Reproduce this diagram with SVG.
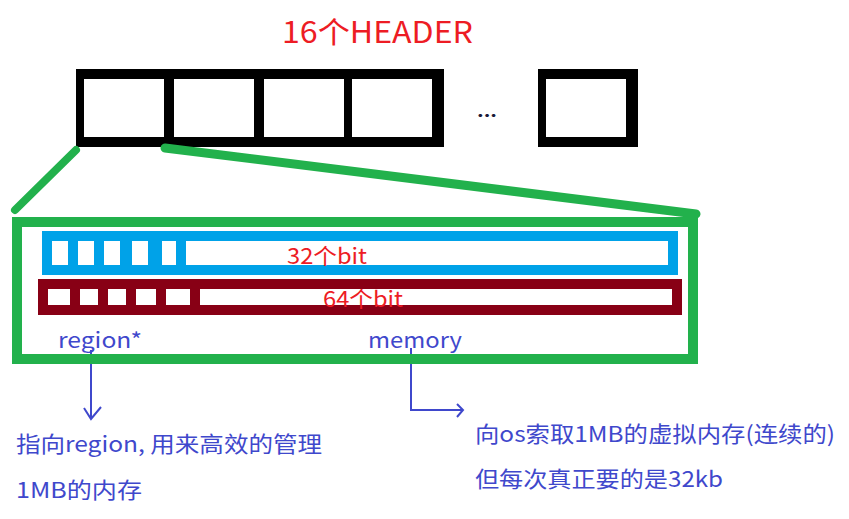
<svg xmlns="http://www.w3.org/2000/svg" width="849" height="519" viewBox="0 0 849 519">
<style>
.t{font-family:"Noto Sans CJK SC","Noto Sans",sans-serif;}
.red{fill:#ED1C24;}
.ind{fill:#3F48CC;}
.wh{fill:#fff;}
.ln{stroke:#3F48CC;stroke-width:2;fill:none;}
</style>
<rect width="849" height="519" fill="#fff"/>
<g id="title">
<text class="t red" x="282" y="43" font-size="30" textLength="191" lengthAdjust="spacingAndGlyphs">16个HEADER</text>
</g>
<g id="headers">
<rect x="76" y="69" width="368" height="78" fill="#000"/>
<rect class="wh" x="84" y="79" width="80" height="58"/>
<rect class="wh" x="174" y="79" width="80" height="58"/>
<rect class="wh" x="264" y="79" width="80" height="58"/>
<rect class="wh" x="352" y="79" width="80" height="58"/>
<text class="t" x="477" y="117" font-size="16" font-weight="bold" fill="#1a1a3a" textLength="20" lengthAdjust="spacingAndGlyphs">...</text>
<rect x="538" y="69" width="100" height="78" fill="#000"/>
<rect class="wh" x="546" y="79" width="80" height="58"/>
</g>
<g id="connectors">
<line x1="15" y1="210" x2="76" y2="150" stroke="#22B14C" stroke-width="8" stroke-linecap="round"/>
<line x1="165" y1="148" x2="696" y2="214" stroke="#22B14C" stroke-width="9" stroke-linecap="round"/>
<rect x="688" y="211" width="10" height="20" fill="#22B14C"/>
<polyline class="ln" points="91,350 91,419"/>
<polyline class="ln" points="84,408 91,419 101,407"/>
<polyline class="ln" points="411,348 411,410 463,410"/>
<polyline class="ln" points="457,404 463,410 457,417"/>
</g>
<g id="region">
<rect x="17" y="222" width="676" height="137" fill="none" stroke="#22B14C" stroke-width="10"/>
</g>
<g id="bits32">
<rect x="42" y="231" width="636" height="44" fill="#00A2E8"/>
<rect class="wh" x="52" y="241" width="16" height="24"/>
<rect class="wh" x="78" y="241" width="16" height="24"/>
<rect class="wh" x="104" y="241" width="16" height="24"/>
<rect class="wh" x="132" y="241" width="16" height="24"/>
<rect class="wh" x="162" y="241" width="14" height="24"/>
<rect class="wh" x="186" y="241" width="482" height="24"/>
<text class="t red" x="287" y="264" font-size="22" textLength="80" lengthAdjust="spacingAndGlyphs">32个bit</text>
</g>
<g id="bits64">
<rect x="38" y="279" width="644" height="36" fill="#880015"/>
<rect class="wh" x="48" y="289" width="22" height="16"/>
<rect class="wh" x="80" y="289" width="18" height="16"/>
<rect class="wh" x="108" y="289" width="18" height="16"/>
<rect class="wh" x="136" y="289" width="20" height="16"/>
<rect class="wh" x="166" y="289" width="24" height="16"/>
<rect class="wh" x="200" y="289" width="472" height="16"/>
<text class="t red" x="323" y="307" font-size="22" textLength="80" lengthAdjust="spacingAndGlyphs">64个bit</text>
</g>
<g id="labels">
<text class="t ind" x="58" y="348" font-size="21" textLength="84" lengthAdjust="spacingAndGlyphs">region*</text>
<text class="t ind" x="368" y="348" font-size="21" textLength="94" lengthAdjust="spacingAndGlyphs">memory</text>
</g>
<g id="note-left">
<text class="t ind" x="16" y="452" font-size="22" textLength="306" lengthAdjust="spacingAndGlyphs">指向region, 用来高效的管理</text>
<text class="t ind" x="16" y="498" font-size="22" textLength="126" lengthAdjust="spacingAndGlyphs">1MB的内存</text>
</g>
<g id="note-right">
<text class="t ind" x="475" y="442" font-size="22" textLength="360" lengthAdjust="spacingAndGlyphs">向os索取1MB的虚拟内存(连续的)</text>
<text class="t ind" x="475" y="487" font-size="22" textLength="248" lengthAdjust="spacingAndGlyphs">但每次真正要的是32kb</text>
</g>
</svg>
